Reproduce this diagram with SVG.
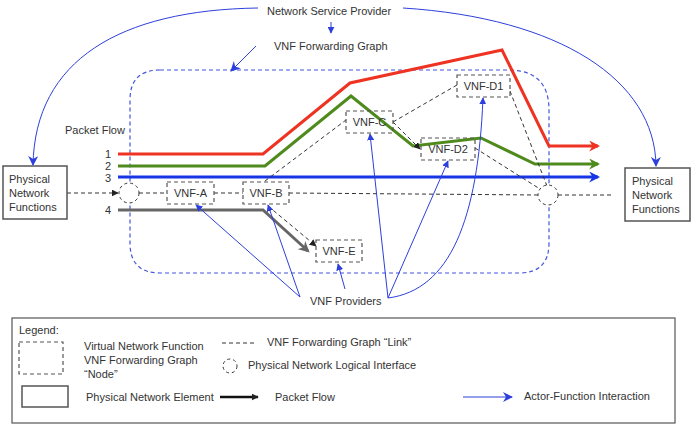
<svg xmlns="http://www.w3.org/2000/svg" width="693" height="430" viewBox="0 0 693 430">
<defs>
<style>
text{font-family:"Liberation Sans",Arial,sans-serif;font-size:11px;fill:#333}
.vnf{fill:none;stroke:#555;stroke-width:1.2;stroke-dasharray:4 3}
.pne{fill:#fff;stroke:#555;stroke-width:1.5}
.link{fill:none;stroke:#333;stroke-width:1;stroke-dasharray:4 3}
.act{fill:none;stroke:#2d3fdc;stroke-width:1}
.ifc{fill:#fff;stroke:#333;stroke-width:1;stroke-dasharray:3 3}
</style>
<marker id="ab" viewBox="0 0 10 10" refX="9" refY="5" markerWidth="7" markerHeight="7" orient="auto" markerUnits="userSpaceOnUse"><path d="M0,0L10,5L0,10z" fill="#2d3fdc"/></marker>
<marker id="ab2" viewBox="0 0 10 10" refX="9" refY="5" markerWidth="10" markerHeight="10" orient="auto" markerUnits="userSpaceOnUse"><path d="M0,0L10,5L0,10L3,5z" fill="#2d3fdc"/></marker>
<marker id="ak" viewBox="0 0 10 10" refX="9" refY="5" markerWidth="7" markerHeight="7" orient="auto" markerUnits="userSpaceOnUse"><path d="M0,0L10,5L0,10z" fill="#222"/></marker>
<marker id="ar" viewBox="0 0 10 10" refX="8" refY="5" markerWidth="11" markerHeight="11" orient="auto" markerUnits="userSpaceOnUse"><path d="M0,0L10,5L0,10L3,5z" fill="#ee3322"/></marker>
<marker id="ag" viewBox="0 0 10 10" refX="8" refY="5" markerWidth="11" markerHeight="11" orient="auto" markerUnits="userSpaceOnUse"><path d="M0,0L10,5L0,10L3,5z" fill="#4f8a1c"/></marker>
<marker id="abl" viewBox="0 0 10 10" refX="8" refY="5" markerWidth="11" markerHeight="11" orient="auto" markerUnits="userSpaceOnUse"><path d="M0,0L10,5L0,10L3,5z" fill="#1636e6"/></marker>
<marker id="agr" viewBox="0 0 10 10" refX="8" refY="5" markerWidth="11" markerHeight="11" orient="auto" markerUnits="userSpaceOnUse"><path d="M0,0L10,5L0,10L3,5z" fill="#666"/></marker>
</defs>
<rect width="693" height="430" fill="#fff"/>

<!-- VNF forwarding graph boundary -->
<path id="fg-boundary" d="M160,70 H508 Q549,70 549,110 V243 Q549,273 519,273 H160 Q130,273 130,243 V100 Q130,70 160,70 Z" fill="none" stroke="#4455dd" stroke-width="1.2" stroke-dasharray="4 3"/>

<g id="labels">
<text x="267" y="15">Network Service Provider</text>
<text x="274" y="50">VNF Forwarding Graph</text>
<text x="65" y="134">Packet Flow</text>
<text x="105" y="158">1</text>
<text x="105" y="170">2</text>
<text x="105" y="182">3</text>
<text x="105" y="214">4</text>
<text x="310" y="305">VNF Providers</text>
</g>

<g id="connectors">
<!-- packet flows -->
<polyline points="118,154 263,154 350,83 502,50 549,146 598,146" fill="none" stroke="#ee3322" stroke-width="3" marker-end="url(#ar)"/>
<polyline points="118,166 265,166 351,96 413,146 481,138 535,164 598,164" fill="none" stroke="#4f8a1c" stroke-width="3" marker-end="url(#ag)"/>
<polyline points="118,177 598,177" fill="none" stroke="#1636e6" stroke-width="3" marker-end="url(#abl)"/>
<polyline points="118,210 263,210 308,251" fill="none" stroke="#666" stroke-width="3" marker-end="url(#agr)"/>

<!-- forwarding graph links -->
<line x1="67" y1="193" x2="118" y2="193" class="link" marker-end="url(#ak)"/>
<line x1="139" y1="193" x2="167" y2="193" class="link"/>
<line x1="214" y1="193" x2="243" y2="193" class="link"/>
<line x1="289" y1="193" x2="538" y2="195" class="link"/>
<line x1="558" y1="195" x2="612" y2="195" class="link"/>
<line x1="265" y1="181" x2="346" y2="120" class="link"/>
<line x1="393" y1="122" x2="457" y2="85" class="link"/>
<line x1="393" y1="122" x2="420" y2="149" class="link" marker-end="url(#ak)"/>
<line x1="510" y1="91" x2="547" y2="186" class="link"/>
<line x1="475" y1="148" x2="540" y2="189" class="link"/>
<line x1="268" y1="206" x2="316" y2="246" class="link" marker-end="url(#ak)"/>

<!-- actor-function interactions -->
<path d="M258,8 C120,10 35,60 33,165" class="act" stroke-width="1.3" marker-end="url(#ab2)"/>
<path d="M403,8 C560,18 655,80 656,166" class="act" marker-end="url(#ab2)"/>
<line x1="331" y1="22" x2="331" y2="33" class="act" marker-end="url(#ab)"/>
<line x1="256" y1="46" x2="231" y2="71" class="act" marker-end="url(#ab2)"/>
<line x1="300" y1="297" x2="196" y2="205" class="act" marker-end="url(#ab)"/>
<line x1="300" y1="297" x2="268" y2="205" class="act" marker-end="url(#ab)"/>
<line x1="345" y1="289" x2="338" y2="264" class="act" marker-end="url(#ab)"/>
<line x1="388" y1="298" x2="370" y2="134" class="act" marker-end="url(#ab)"/>
<line x1="388" y1="298" x2="448" y2="161" class="act" marker-end="url(#ab)"/>
<path d="M388,298 C450,290 478,220 483,98" class="act" marker-end="url(#ab)"/>
</g>

<g id="pnf-left">
<rect x="3" y="166" width="64" height="53" class="pne"/>
<text x="9" y="183">Physical</text>
<text x="9" y="197">Network</text>
<text x="9" y="211">Functions</text>
</g>
<g id="pnf-right">
<rect x="625" y="168" width="65" height="53" class="pne"/>
<text x="632" y="185">Physical</text>
<text x="632" y="199">Network</text>
<text x="632" y="213">Functions</text>
</g>

<g id="if-left"><circle cx="129" cy="193" r="10" class="ifc"/></g>
<g id="if-right"><circle cx="548" cy="195" r="10" class="ifc"/></g>

<g id="vnf-a"><rect x="167" y="182" width="47" height="22" class="vnf" fill="#fff"/><text x="190.5" y="197" text-anchor="middle">VNF-A</text></g>
<g id="vnf-b"><rect x="243" y="182" width="46" height="22" class="vnf"/><text x="266" y="197" text-anchor="middle">VNF-B</text></g>
<g id="vnf-c"><rect x="346" y="111" width="47" height="22" class="vnf"/><text x="369.5" y="126" text-anchor="middle">VNF-C</text></g>
<g id="vnf-d1"><rect x="457" y="75" width="53" height="22" class="vnf"/><text x="483.5" y="90" text-anchor="middle">VNF-D1</text></g>
<g id="vnf-d2"><rect x="421" y="138" width="54" height="22" class="vnf"/><text x="448" y="153" text-anchor="middle">VNF-D2</text></g>
<g id="vnf-e"><rect x="316" y="240" width="46" height="22" class="vnf"/><text x="339" y="255" text-anchor="middle">VNF-E</text></g>

<g id="legend">
<rect x="12" y="318" width="663" height="105" fill="none" stroke="#555" stroke-width="1.2"/>
<text x="19" y="334">Legend:</text>
<rect x="19" y="342" width="44" height="32" class="vnf"/>
<text x="84" y="350">Virtual Network Function</text>
<text x="84" y="364">VNF Forwarding Graph</text>
<text x="84" y="378">“Node”</text>
<rect x="22" y="386" width="46" height="21" class="pne"/>
<text x="86" y="401">Physical Network Element</text>
<line x1="220" y1="397" x2="258" y2="397" stroke="#111" stroke-width="2.5" marker-end="url(#ak)"/>
<text x="275" y="401">Packet Flow</text>
<line x1="222" y1="343" x2="254" y2="343" class="link"/>
<text x="267" y="346">VNF Forwarding Graph “Link”</text>
<circle cx="230" cy="366" r="7" class="ifc"/>
<text x="248" y="369">Physical Network Logical Interface</text>
<line x1="463" y1="397" x2="512" y2="397" class="act" marker-end="url(#ab2)"/>
<text x="524" y="400">Actor-Function Interaction</text>
</g>
</svg>
